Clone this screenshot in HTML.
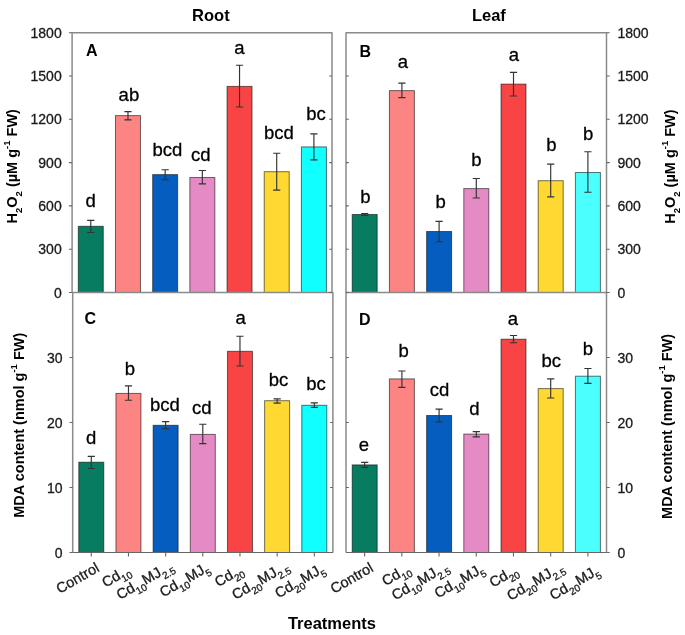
<!DOCTYPE html>
<html><head><meta charset="utf-8"><style>
html,body{margin:0;padding:0;background:#fff;}
body{width:685px;height:635px;overflow:hidden;}
svg{display:block;filter:blur(0.3px);}
</style></head><body>
<svg width="685" height="635" viewBox="0 0 685 635" font-family='"Liberation Sans", sans-serif'>
<rect width="685" height="635" fill="#fff"/>
<rect x="78.29" y="226.30" width="25.00" height="66.20" fill="#077C60" stroke="rgba(0,0,0,0.55)" stroke-width="1"/>
<rect x="115.48" y="115.60" width="25.00" height="176.90" fill="#FC8482" stroke="rgba(0,0,0,0.55)" stroke-width="1"/>
<rect x="152.66" y="174.60" width="25.00" height="117.90" fill="#055EBF" stroke="rgba(0,0,0,0.55)" stroke-width="1"/>
<rect x="189.85" y="177.50" width="25.00" height="115.00" fill="#E48BC5" stroke="rgba(0,0,0,0.55)" stroke-width="1"/>
<rect x="227.04" y="86.40" width="25.00" height="206.10" fill="#F84444" stroke="rgba(0,0,0,0.55)" stroke-width="1"/>
<rect x="264.22" y="171.70" width="25.00" height="120.80" fill="#FFD932" stroke="rgba(0,0,0,0.55)" stroke-width="1"/>
<rect x="301.41" y="146.90" width="25.00" height="145.60" fill="#10FFFF" stroke="rgba(0,0,0,0.55)" stroke-width="1"/>
<path d="M90.79 220.40V232.50M87.19 220.40H94.39M87.19 232.50H94.39" stroke="#333" stroke-width="1.15" fill="none"/>
<path d="M127.98 111.65V119.80M124.38 111.65H131.58M124.38 119.80H131.58" stroke="#333" stroke-width="1.15" fill="none"/>
<path d="M165.16 169.70V179.70M161.56 169.70H168.76M161.56 179.70H168.76" stroke="#333" stroke-width="1.15" fill="none"/>
<path d="M202.35 170.50V183.80M198.75 170.50H205.95M198.75 183.80H205.95" stroke="#333" stroke-width="1.15" fill="none"/>
<path d="M239.54 65.20V107.00M235.94 65.20H243.14M235.94 107.00H243.14" stroke="#333" stroke-width="1.15" fill="none"/>
<path d="M276.72 153.20V190.10M273.12 153.20H280.32M273.12 190.10H280.32" stroke="#333" stroke-width="1.15" fill="none"/>
<path d="M313.91 133.80V159.90M310.31 133.80H317.51M310.31 159.90H317.51" stroke="#333" stroke-width="1.15" fill="none"/>
<text x="90.70" y="206.90" text-anchor="middle" font-size="18.5" fill="#000" stroke="#000" stroke-width="0.3">d</text>
<text x="128.90" y="100.50" text-anchor="middle" font-size="18.5" fill="#000" stroke="#000" stroke-width="0.3">ab</text>
<text x="167.50" y="155.70" text-anchor="middle" font-size="18.5" fill="#000" stroke="#000" stroke-width="0.3">bcd</text>
<text x="200.80" y="161.20" text-anchor="middle" font-size="18.5" fill="#000" stroke="#000" stroke-width="0.3">cd</text>
<text x="239.30" y="53.90" text-anchor="middle" font-size="18.5" fill="#000" stroke="#000" stroke-width="0.3">a</text>
<text x="279.00" y="139.20" text-anchor="middle" font-size="18.5" fill="#000" stroke="#000" stroke-width="0.3">bcd</text>
<text x="316.00" y="120.00" text-anchor="middle" font-size="18.5" fill="#000" stroke="#000" stroke-width="0.3">bc</text>
<rect x="352.20" y="214.50" width="25.00" height="78.00" fill="#077C60" stroke="rgba(0,0,0,0.55)" stroke-width="1"/>
<rect x="389.40" y="90.60" width="25.00" height="201.90" fill="#FC8482" stroke="rgba(0,0,0,0.55)" stroke-width="1"/>
<rect x="426.60" y="231.50" width="25.00" height="61.00" fill="#055EBF" stroke="rgba(0,0,0,0.55)" stroke-width="1"/>
<rect x="463.80" y="188.60" width="25.00" height="103.90" fill="#E48BC5" stroke="rgba(0,0,0,0.55)" stroke-width="1"/>
<rect x="501.00" y="84.10" width="25.00" height="208.40" fill="#F84444" stroke="rgba(0,0,0,0.55)" stroke-width="1"/>
<rect x="538.20" y="180.70" width="25.00" height="111.80" fill="#FFD932" stroke="rgba(0,0,0,0.55)" stroke-width="1"/>
<rect x="575.40" y="172.50" width="25.00" height="120.00" fill="#4CFFFF" stroke="rgba(0,0,0,0.55)" stroke-width="1"/>
<path d="M364.70 213.50V215.50M361.10 213.50H368.30M361.10 215.50H368.30" stroke="#333" stroke-width="1.15" fill="none"/>
<path d="M401.90 83.10V97.60M398.30 83.10H405.50M398.30 97.60H405.50" stroke="#333" stroke-width="1.15" fill="none"/>
<path d="M439.10 221.30V241.70M435.50 221.30H442.70M435.50 241.70H442.70" stroke="#333" stroke-width="1.15" fill="none"/>
<path d="M476.30 178.50V198.00M472.70 178.50H479.90M472.70 198.00H479.90" stroke="#333" stroke-width="1.15" fill="none"/>
<path d="M513.50 72.40V96.00M509.90 72.40H517.10M509.90 96.00H517.10" stroke="#333" stroke-width="1.15" fill="none"/>
<path d="M550.70 164.10V196.90M547.10 164.10H554.30M547.10 196.90H554.30" stroke="#333" stroke-width="1.15" fill="none"/>
<path d="M587.90 151.70V192.20M584.30 151.70H591.50M584.30 192.20H591.50" stroke="#333" stroke-width="1.15" fill="none"/>
<text x="365.40" y="203.00" text-anchor="middle" font-size="18.5" fill="#000" stroke="#000" stroke-width="0.3">b</text>
<text x="402.90" y="68.10" text-anchor="middle" font-size="18.5" fill="#000" stroke="#000" stroke-width="0.3">a</text>
<text x="440.70" y="207.50" text-anchor="middle" font-size="18.5" fill="#000" stroke="#000" stroke-width="0.3">b</text>
<text x="476.50" y="166.20" text-anchor="middle" font-size="18.5" fill="#000" stroke="#000" stroke-width="0.3">b</text>
<text x="513.90" y="61.40" text-anchor="middle" font-size="18.5" fill="#000" stroke="#000" stroke-width="0.3">a</text>
<text x="551.50" y="150.60" text-anchor="middle" font-size="18.5" fill="#000" stroke="#000" stroke-width="0.3">b</text>
<text x="588.20" y="139.60" text-anchor="middle" font-size="18.5" fill="#000" stroke="#000" stroke-width="0.3">b</text>
<rect x="78.79" y="462.20" width="25.00" height="90.30" fill="#077C60" stroke="rgba(0,0,0,0.55)" stroke-width="1"/>
<rect x="115.96" y="393.40" width="25.00" height="159.10" fill="#FC8482" stroke="rgba(0,0,0,0.55)" stroke-width="1"/>
<rect x="153.13" y="425.30" width="25.00" height="127.20" fill="#055EBF" stroke="rgba(0,0,0,0.55)" stroke-width="1"/>
<rect x="190.30" y="434.40" width="25.00" height="118.10" fill="#E48BC5" stroke="rgba(0,0,0,0.55)" stroke-width="1"/>
<rect x="227.47" y="351.30" width="25.00" height="201.20" fill="#F84444" stroke="rgba(0,0,0,0.55)" stroke-width="1"/>
<rect x="264.64" y="400.70" width="25.00" height="151.80" fill="#FFD932" stroke="rgba(0,0,0,0.55)" stroke-width="1"/>
<rect x="301.81" y="405.30" width="25.00" height="147.20" fill="#10FFFF" stroke="rgba(0,0,0,0.55)" stroke-width="1"/>
<path d="M91.29 456.40V468.50M87.69 456.40H94.89M87.69 468.50H94.89" stroke="#333" stroke-width="1.15" fill="none"/>
<path d="M128.46 385.80V400.20M124.86 385.80H132.06M124.86 400.20H132.06" stroke="#333" stroke-width="1.15" fill="none"/>
<path d="M165.63 421.60V428.60M162.03 421.60H169.23M162.03 428.60H169.23" stroke="#333" stroke-width="1.15" fill="none"/>
<path d="M202.80 424.20V443.60M199.20 424.20H206.40M199.20 443.60H206.40" stroke="#333" stroke-width="1.15" fill="none"/>
<path d="M239.97 336.20V366.00M236.37 336.20H243.57M236.37 366.00H243.57" stroke="#333" stroke-width="1.15" fill="none"/>
<path d="M277.14 398.80V403.10M273.54 398.80H280.74M273.54 403.10H280.74" stroke="#333" stroke-width="1.15" fill="none"/>
<path d="M314.31 402.90V407.30M310.71 402.90H317.91M310.71 407.30H317.91" stroke="#333" stroke-width="1.15" fill="none"/>
<text x="91.10" y="444.30" text-anchor="middle" font-size="18.5" fill="#000" stroke="#000" stroke-width="0.3">d</text>
<text x="130.00" y="375.30" text-anchor="middle" font-size="18.5" fill="#000" stroke="#000" stroke-width="0.3">b</text>
<text x="165.00" y="411.00" text-anchor="middle" font-size="18.5" fill="#000" stroke="#000" stroke-width="0.3">bcd</text>
<text x="201.70" y="413.60" text-anchor="middle" font-size="18.5" fill="#000" stroke="#000" stroke-width="0.3">cd</text>
<text x="240.70" y="324.30" text-anchor="middle" font-size="18.5" fill="#000" stroke="#000" stroke-width="0.3">a</text>
<text x="278.50" y="385.50" text-anchor="middle" font-size="18.5" fill="#000" stroke="#000" stroke-width="0.3">bc</text>
<text x="316.00" y="390.30" text-anchor="middle" font-size="18.5" fill="#000" stroke="#000" stroke-width="0.3">bc</text>
<rect x="352.20" y="464.90" width="25.00" height="87.60" fill="#077C60" stroke="rgba(0,0,0,0.55)" stroke-width="1"/>
<rect x="389.40" y="378.90" width="25.00" height="173.60" fill="#FC8482" stroke="rgba(0,0,0,0.55)" stroke-width="1"/>
<rect x="426.60" y="415.50" width="25.00" height="137.00" fill="#055EBF" stroke="rgba(0,0,0,0.55)" stroke-width="1"/>
<rect x="463.80" y="434.10" width="25.00" height="118.40" fill="#E48BC5" stroke="rgba(0,0,0,0.55)" stroke-width="1"/>
<rect x="501.00" y="339.20" width="25.00" height="213.30" fill="#F84444" stroke="rgba(0,0,0,0.55)" stroke-width="1"/>
<rect x="538.20" y="388.60" width="25.00" height="163.90" fill="#FFD932" stroke="rgba(0,0,0,0.55)" stroke-width="1"/>
<rect x="575.40" y="376.20" width="25.00" height="176.30" fill="#4CFFFF" stroke="rgba(0,0,0,0.55)" stroke-width="1"/>
<path d="M364.70 462.40V467.30M361.10 462.40H368.30M361.10 467.30H368.30" stroke="#333" stroke-width="1.15" fill="none"/>
<path d="M401.90 371.00V387.40M398.30 371.00H405.50M398.30 387.40H405.50" stroke="#333" stroke-width="1.15" fill="none"/>
<path d="M439.10 409.10V421.90M435.50 409.10H442.70M435.50 421.90H442.70" stroke="#333" stroke-width="1.15" fill="none"/>
<path d="M476.30 431.60V436.90M472.70 431.60H479.90M472.70 436.90H479.90" stroke="#333" stroke-width="1.15" fill="none"/>
<path d="M513.50 335.50V342.70M509.90 335.50H517.10M509.90 342.70H517.10" stroke="#333" stroke-width="1.15" fill="none"/>
<path d="M550.70 378.90V398.00M547.10 378.90H554.30M547.10 398.00H554.30" stroke="#333" stroke-width="1.15" fill="none"/>
<path d="M587.90 368.50V383.30M584.30 368.50H591.50M584.30 383.30H591.50" stroke="#333" stroke-width="1.15" fill="none"/>
<text x="363.90" y="451.00" text-anchor="middle" font-size="18.5" fill="#000" stroke="#000" stroke-width="0.3">e</text>
<text x="403.60" y="357.10" text-anchor="middle" font-size="18.5" fill="#000" stroke="#000" stroke-width="0.3">b</text>
<text x="439.40" y="395.80" text-anchor="middle" font-size="18.5" fill="#000" stroke="#000" stroke-width="0.3">cd</text>
<text x="474.50" y="415.10" text-anchor="middle" font-size="18.5" fill="#000" stroke="#000" stroke-width="0.3">d</text>
<text x="513.00" y="324.70" text-anchor="middle" font-size="18.5" fill="#000" stroke="#000" stroke-width="0.3">a</text>
<text x="551.30" y="367.00" text-anchor="middle" font-size="18.5" fill="#000" stroke="#000" stroke-width="0.3">bc</text>
<text x="588.00" y="355.40" text-anchor="middle" font-size="18.5" fill="#000" stroke="#000" stroke-width="0.3">b</text>
<path d="M72.10 292.50V32.70H332.00V292.50" fill="none" stroke="#8a8a8a" stroke-width="1.5" stroke-linejoin="round"/>
<line x1="72.10" y1="292.50" x2="332.00" y2="292.50" stroke="#666" stroke-width="1.2"/>
<path d="M346.00 292.50V32.70H606.50V292.50" fill="none" stroke="#8a8a8a" stroke-width="1.5" stroke-linejoin="round"/>
<line x1="346.00" y1="292.50" x2="606.50" y2="292.50" stroke="#666" stroke-width="1.2"/>
<path d="M72.70 552.50V292.50H332.90V552.50" fill="none" stroke="#8a8a8a" stroke-width="1.5" stroke-linejoin="round"/>
<line x1="72.70" y1="552.50" x2="332.90" y2="552.50" stroke="#666" stroke-width="1.2"/>
<path d="M346.00 552.50V292.50H606.50V552.50" fill="none" stroke="#8a8a8a" stroke-width="1.5" stroke-linejoin="round"/>
<line x1="346.00" y1="552.50" x2="606.50" y2="552.50" stroke="#666" stroke-width="1.2"/>
<path d="M68.90 292.50H72.10M329.20 292.50H332.00M346.00 292.50H348.80M606.50 292.50H609.70" stroke="#666" stroke-width="1.1"/>
<text x="61.7" y="297.50" text-anchor="end" font-size="14" fill="#1a1a1a" stroke="#1a1a1a" stroke-width="0.3">0</text>
<text x="617.5" y="297.50" font-size="14" fill="#1a1a1a" stroke="#1a1a1a" stroke-width="0.3">0</text>
<path d="M68.90 249.20H72.10M329.20 249.20H332.00M346.00 249.20H348.80M606.50 249.20H609.70" stroke="#666" stroke-width="1.1"/>
<text x="61.7" y="254.20" text-anchor="end" font-size="14" fill="#1a1a1a" stroke="#1a1a1a" stroke-width="0.3">300</text>
<text x="617.5" y="254.20" font-size="14" fill="#1a1a1a" stroke="#1a1a1a" stroke-width="0.3">300</text>
<path d="M68.90 205.90H72.10M329.20 205.90H332.00M346.00 205.90H348.80M606.50 205.90H609.70" stroke="#666" stroke-width="1.1"/>
<text x="61.7" y="210.90" text-anchor="end" font-size="14" fill="#1a1a1a" stroke="#1a1a1a" stroke-width="0.3">600</text>
<text x="617.5" y="210.90" font-size="14" fill="#1a1a1a" stroke="#1a1a1a" stroke-width="0.3">600</text>
<path d="M68.90 162.60H72.10M329.20 162.60H332.00M346.00 162.60H348.80M606.50 162.60H609.70" stroke="#666" stroke-width="1.1"/>
<text x="61.7" y="167.60" text-anchor="end" font-size="14" fill="#1a1a1a" stroke="#1a1a1a" stroke-width="0.3">900</text>
<text x="617.5" y="167.60" font-size="14" fill="#1a1a1a" stroke="#1a1a1a" stroke-width="0.3">900</text>
<path d="M68.90 119.30H72.10M329.20 119.30H332.00M346.00 119.30H348.80M606.50 119.30H609.70" stroke="#666" stroke-width="1.1"/>
<text x="61.7" y="124.30" text-anchor="end" font-size="14" fill="#1a1a1a" stroke="#1a1a1a" stroke-width="0.3">1200</text>
<text x="617.5" y="124.30" font-size="14" fill="#1a1a1a" stroke="#1a1a1a" stroke-width="0.3">1200</text>
<path d="M68.90 76.00H72.10M329.20 76.00H332.00M346.00 76.00H348.80M606.50 76.00H609.70" stroke="#666" stroke-width="1.1"/>
<text x="61.7" y="81.00" text-anchor="end" font-size="14" fill="#1a1a1a" stroke="#1a1a1a" stroke-width="0.3">1500</text>
<text x="617.5" y="81.00" font-size="14" fill="#1a1a1a" stroke="#1a1a1a" stroke-width="0.3">1500</text>
<path d="M68.90 32.70H72.10M606.50 32.70H609.70" stroke="#666" stroke-width="1.1"/>
<text x="61.7" y="37.70" text-anchor="end" font-size="14" fill="#1a1a1a" stroke="#1a1a1a" stroke-width="0.3">1800</text>
<text x="617.5" y="37.70" font-size="14" fill="#1a1a1a" stroke="#1a1a1a" stroke-width="0.3">1800</text>
<path d="M69.50 552.50H72.70M330.10 552.50H332.90M346.00 552.50H348.80M606.50 552.50H609.70" stroke="#666" stroke-width="1.1"/>
<text x="62.6" y="557.50" text-anchor="end" font-size="14" fill="#1a1a1a" stroke="#1a1a1a" stroke-width="0.3">0</text>
<text x="617.5" y="557.50" font-size="14" fill="#1a1a1a" stroke="#1a1a1a" stroke-width="0.3">0</text>
<path d="M69.50 487.50H72.70M330.10 487.50H332.90M346.00 487.50H348.80M606.50 487.50H609.70" stroke="#666" stroke-width="1.1"/>
<text x="62.6" y="492.50" text-anchor="end" font-size="14" fill="#1a1a1a" stroke="#1a1a1a" stroke-width="0.3">10</text>
<text x="617.5" y="492.50" font-size="14" fill="#1a1a1a" stroke="#1a1a1a" stroke-width="0.3">10</text>
<path d="M69.50 422.50H72.70M330.10 422.50H332.90M346.00 422.50H348.80M606.50 422.50H609.70" stroke="#666" stroke-width="1.1"/>
<text x="62.6" y="427.50" text-anchor="end" font-size="14" fill="#1a1a1a" stroke="#1a1a1a" stroke-width="0.3">20</text>
<text x="617.5" y="427.50" font-size="14" fill="#1a1a1a" stroke="#1a1a1a" stroke-width="0.3">20</text>
<path d="M69.50 357.50H72.70M330.10 357.50H332.90M346.00 357.50H348.80M606.50 357.50H609.70" stroke="#666" stroke-width="1.1"/>
<text x="62.6" y="362.50" text-anchor="end" font-size="14" fill="#1a1a1a" stroke="#1a1a1a" stroke-width="0.3">30</text>
<text x="617.5" y="362.50" font-size="14" fill="#1a1a1a" stroke="#1a1a1a" stroke-width="0.3">30</text>
<line x1="91.29" y1="552.50" x2="91.29" y2="556.50" stroke="#666" stroke-width="1.1"/>
<line x1="128.46" y1="552.50" x2="128.46" y2="556.50" stroke="#666" stroke-width="1.1"/>
<line x1="165.63" y1="552.50" x2="165.63" y2="556.50" stroke="#666" stroke-width="1.1"/>
<line x1="202.80" y1="552.50" x2="202.80" y2="556.50" stroke="#666" stroke-width="1.1"/>
<line x1="239.97" y1="552.50" x2="239.97" y2="556.50" stroke="#666" stroke-width="1.1"/>
<line x1="277.14" y1="552.50" x2="277.14" y2="556.50" stroke="#666" stroke-width="1.1"/>
<line x1="314.31" y1="552.50" x2="314.31" y2="556.50" stroke="#666" stroke-width="1.1"/>
<line x1="364.61" y1="552.50" x2="364.61" y2="556.50" stroke="#666" stroke-width="1.1"/>
<line x1="401.82" y1="552.50" x2="401.82" y2="556.50" stroke="#666" stroke-width="1.1"/>
<line x1="439.04" y1="552.50" x2="439.04" y2="556.50" stroke="#666" stroke-width="1.1"/>
<line x1="476.25" y1="552.50" x2="476.25" y2="556.50" stroke="#666" stroke-width="1.1"/>
<line x1="513.46" y1="552.50" x2="513.46" y2="556.50" stroke="#666" stroke-width="1.1"/>
<line x1="550.68" y1="552.50" x2="550.68" y2="556.50" stroke="#666" stroke-width="1.1"/>
<line x1="587.89" y1="552.50" x2="587.89" y2="556.50" stroke="#666" stroke-width="1.1"/>
<text x="86.0" y="55.5" font-size="16" font-weight="bold" fill="#000">A</text>
<text x="359.6" y="57.0" font-size="16" font-weight="bold" fill="#000">B</text>
<text x="84.4" y="324.4" font-size="16" font-weight="bold" fill="#000">C</text>
<text x="359.0" y="324.7" font-size="16" font-weight="bold" fill="#000">D</text>
<text x="210.9" y="20.7" text-anchor="middle" font-size="16.5" font-weight="bold" fill="#000">Root</text>
<text x="488.9" y="20.7" text-anchor="middle" font-size="16.5" font-weight="bold" fill="#000">Leaf</text>
<text x="331.9" y="628.8" text-anchor="middle" font-size="16.5" font-weight="bold" fill="#000">Treatments</text>
<text transform="translate(16.9,166.25) rotate(-90)" text-anchor="middle" font-size="14.5" font-weight="bold" fill="#000">H<tspan font-size="9.5" dy="5.5">2</tspan><tspan dy="-5.5">O</tspan><tspan font-size="9.5" dy="5.5">2</tspan><tspan dy="-5.5"> (µM g</tspan><tspan font-size="9.5" dy="-7">-1</tspan><tspan dy="7"> FW)</tspan></text>
<text transform="translate(674.6,166.6) rotate(-90)" text-anchor="middle" font-size="14.5" font-weight="bold" fill="#000">H<tspan font-size="9.5" dy="5.5">2</tspan><tspan dy="-5.5">O</tspan><tspan font-size="9.5" dy="5.5">2</tspan><tspan dy="-5.5"> (µM g</tspan><tspan font-size="9.5" dy="-7">-1</tspan><tspan dy="7"> FW)</tspan></text>
<text transform="translate(24.4,425.25) rotate(-90)" text-anchor="middle" font-size="14.5" font-weight="bold" fill="#000">MDA content (nmol g<tspan font-size="9.5" dy="-7">-1</tspan><tspan dy="7"> FW)</tspan></text>
<text transform="translate(672.2,426.4) rotate(-90)" text-anchor="middle" font-size="14.5" font-weight="bold" fill="#000">MDA content (nmol g<tspan font-size="9.5" dy="-7">-1</tspan><tspan dy="7"> FW)</tspan></text>
<text transform="translate(59.70,594.10) rotate(-30)" font-size="14.5" fill="#1a1a1a" stroke="#1a1a1a" stroke-width="0.3">Control</text>
<text transform="translate(105.40,587.70) rotate(-30)" font-size="14.5" fill="#1a1a1a" stroke="#1a1a1a" stroke-width="0.3">Cd<tspan font-size="10" dy="4.8">10</tspan><tspan dy="-4.8">​</tspan></text>
<text transform="translate(119.90,599.90) rotate(-30)" font-size="14.5" fill="#1a1a1a" stroke="#1a1a1a" stroke-width="0.3">Cd<tspan font-size="10" dy="4.8">10</tspan><tspan dy="-4.8">​</tspan>MJ<tspan font-size="10" dy="4.8">2.5</tspan><tspan dy="-4.8">​</tspan></text>
<text transform="translate(163.20,597.50) rotate(-30)" font-size="14.5" fill="#1a1a1a" stroke="#1a1a1a" stroke-width="0.3">Cd<tspan font-size="10" dy="4.8">10</tspan><tspan dy="-4.8">​</tspan>MJ<tspan font-size="10" dy="4.8">5</tspan><tspan dy="-4.8">​</tspan></text>
<text transform="translate(218.20,587.20) rotate(-30)" font-size="14.5" fill="#1a1a1a" stroke="#1a1a1a" stroke-width="0.3">Cd<tspan font-size="10" dy="4.8">20</tspan><tspan dy="-4.8">​</tspan></text>
<text transform="translate(235.50,599.90) rotate(-30)" font-size="14.5" fill="#1a1a1a" stroke="#1a1a1a" stroke-width="0.3">Cd<tspan font-size="10" dy="4.8">20</tspan><tspan dy="-4.8">​</tspan>MJ<tspan font-size="10" dy="4.8">2.5</tspan><tspan dy="-4.8">​</tspan></text>
<text transform="translate(278.40,598.50) rotate(-30)" font-size="14.5" fill="#1a1a1a" stroke="#1a1a1a" stroke-width="0.3">Cd<tspan font-size="10" dy="4.8">20</tspan><tspan dy="-4.8">​</tspan>MJ<tspan font-size="10" dy="4.8">5</tspan><tspan dy="-4.8">​</tspan></text>
<text transform="translate(333.90,594.10) rotate(-30)" font-size="14.5" fill="#1a1a1a" stroke="#1a1a1a" stroke-width="0.3">Control</text>
<text transform="translate(385.50,586.20) rotate(-30)" font-size="14.5" fill="#1a1a1a" stroke="#1a1a1a" stroke-width="0.3">Cd<tspan font-size="10" dy="4.8">10</tspan><tspan dy="-4.8">​</tspan></text>
<text transform="translate(395.20,600.50) rotate(-30)" font-size="14.5" fill="#1a1a1a" stroke="#1a1a1a" stroke-width="0.3">Cd<tspan font-size="10" dy="4.8">10</tspan><tspan dy="-4.8">​</tspan>MJ<tspan font-size="10" dy="4.8">2.5</tspan><tspan dy="-4.8">​</tspan></text>
<text transform="translate(438.00,598.50) rotate(-30)" font-size="14.5" fill="#1a1a1a" stroke="#1a1a1a" stroke-width="0.3">Cd<tspan font-size="10" dy="4.8">10</tspan><tspan dy="-4.8">​</tspan>MJ<tspan font-size="10" dy="4.8">5</tspan><tspan dy="-4.8">​</tspan></text>
<text transform="translate(493.00,587.70) rotate(-30)" font-size="14.5" fill="#1a1a1a" stroke="#1a1a1a" stroke-width="0.3">Cd<tspan font-size="10" dy="4.8">20</tspan><tspan dy="-4.8">​</tspan></text>
<text transform="translate(510.40,601.00) rotate(-30)" font-size="14.5" fill="#1a1a1a" stroke="#1a1a1a" stroke-width="0.3">Cd<tspan font-size="10" dy="4.8">20</tspan><tspan dy="-4.8">​</tspan>MJ<tspan font-size="10" dy="4.8">2.5</tspan><tspan dy="-4.8">​</tspan></text>
<text transform="translate(553.20,600.50) rotate(-30)" font-size="14.5" fill="#1a1a1a" stroke="#1a1a1a" stroke-width="0.3">Cd<tspan font-size="10" dy="4.8">20</tspan><tspan dy="-4.8">​</tspan>MJ<tspan font-size="10" dy="4.8">5</tspan><tspan dy="-4.8">​</tspan></text>
</svg>
</body></html>
